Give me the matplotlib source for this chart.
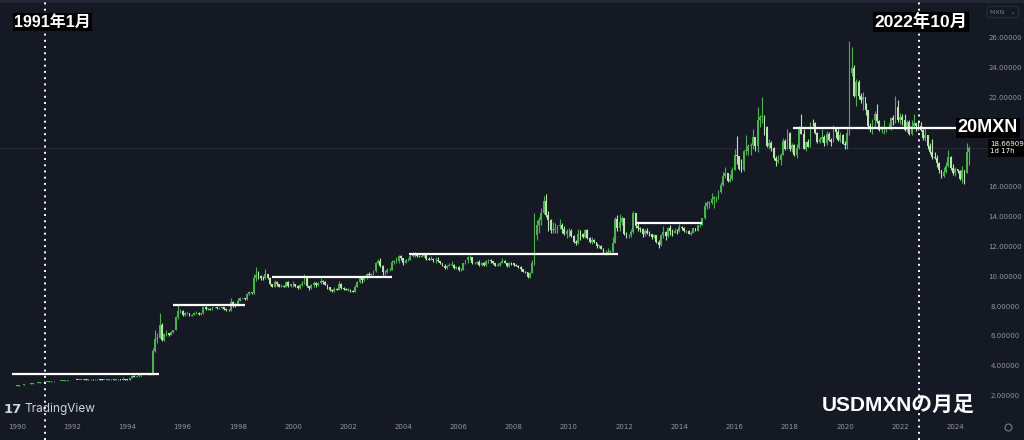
import matplotlib
matplotlib.use('Agg')
import matplotlib.pyplot as plt
import matplotlib.transforms as mtransforms

plt.rcParams['font.family'] = ['Noto Sans CJK JP', 'DejaVu Sans']
label_fonts = ['Liberation Sans', 'Noto Sans CJK JP']

# USDMXN monthly candles, Jan 1990 .. Jul 2024
first_open = 2.68
close = [
    2.70, 2.73, 2.75, 2.78, 2.80, 2.82, 2.84, 2.86, 2.88, 2.90, 2.92, 2.94,  # 1990
    2.95, 2.96, 2.97, 2.98, 2.99, 3.00, 3.01, 3.02, 3.03, 3.04, 3.06, 3.07,  # 1991
    3.07, 3.09, 3.08, 3.08, 3.10, 3.12, 3.11, 3.12, 3.13, 3.12, 3.12, 3.12,  # 1992
    3.11, 3.09, 3.10, 3.11, 3.12, 3.13, 3.11, 3.12, 3.12, 3.11, 3.15, 3.11,  # 1993
    3.10, 3.18, 3.35, 3.30, 3.32, 3.40, 3.39, 3.40, 3.41, 3.44, 3.45, 5.00,  # 1994
    5.80, 5.90, 6.80, 5.75, 6.15, 6.25, 6.12, 6.30, 6.45, 7.30, 7.70, 7.70,  # 1995
    7.45, 7.55, 7.55, 7.40, 7.45, 7.55, 7.60, 7.50, 7.55, 7.95, 7.85, 7.85,  # 1996
    7.80, 7.95, 7.95, 7.90, 7.90, 7.95, 7.85, 7.78, 7.75, 8.30, 8.20, 8.10,  # 1997
    8.40, 8.55, 8.55, 8.50, 8.85, 8.95, 8.90, 9.95, 10.15, 10.05, 9.95, 9.90,  # 1998
    10.20, 9.95, 9.50, 9.35, 9.65, 9.50, 9.35, 9.40, 9.35, 9.65, 9.40, 9.50,  # 1999
    9.50, 9.40, 9.25, 9.45, 9.55, 9.95, 9.40, 9.25, 9.45, 9.60, 9.45, 9.60,  # 2000
    9.70, 9.65, 9.45, 9.30, 9.10, 9.05, 9.20, 9.15, 9.55, 9.25, 9.20, 9.15,  # 2001
    9.15, 9.05, 9.00, 9.35, 9.65, 9.95, 9.80, 9.90, 10.20, 10.15, 10.15, 10.40,  # 2002
    10.95, 11.05, 10.75, 10.30, 10.35, 10.45, 10.45, 11.00, 11.00, 11.05, 11.40, 11.25,  # 2003
    10.95, 11.10, 11.15, 11.40, 11.40, 11.50, 11.40, 11.35, 11.40, 11.45, 11.20, 11.15,  # 2004
    11.20, 11.10, 11.15, 11.05, 10.90, 10.75, 10.60, 10.70, 10.80, 10.80, 10.60, 10.65,  # 2005
    10.45, 10.45, 10.90, 11.10, 11.30, 11.30, 10.90, 10.90, 11.00, 10.80, 10.95, 10.80,  # 2006
    11.05, 11.15, 11.05, 10.90, 10.75, 10.80, 10.95, 11.05, 10.95, 10.70, 10.95, 10.90,  # 2007
    10.80, 10.75, 10.65, 10.50, 10.35, 10.30, 10.00, 10.25, 10.90, 12.80, 13.45, 13.80,  # 2008
    14.30, 15.10, 14.15, 13.80, 13.15, 13.15, 13.20, 13.40, 13.50, 13.20, 12.90, 13.05,  # 2009
    13.05, 12.75, 12.35, 12.30, 12.90, 12.85, 12.65, 13.15, 12.60, 12.35, 12.50, 12.35,  # 2010
    12.10, 12.10, 11.90, 11.50, 11.60, 11.70, 11.70, 12.30, 13.85, 13.30, 13.65, 13.95,  # 2011
    12.90, 12.80, 12.80, 13.00, 14.30, 13.40, 13.30, 13.20, 12.85, 13.10, 12.95, 12.85,  # 2012
    12.70, 12.80, 12.35, 12.15, 12.80, 13.00, 12.75, 13.30, 13.10, 12.95, 13.10, 13.05,  # 2013
    13.35, 13.25, 13.05, 13.10, 12.85, 12.95, 13.25, 13.10, 13.45, 13.50, 13.95, 14.75,  # 2014
    14.95, 14.95, 15.25, 15.35, 15.35, 15.70, 16.15, 16.75, 16.95, 16.45, 16.60, 17.20,  # 2015
    18.15, 18.10, 17.25, 17.15, 18.45, 18.45, 18.80, 18.85, 19.40, 18.80, 20.55, 20.70,  # 2016
    20.80, 20.05, 18.75, 19.00, 18.65, 18.00, 17.80, 17.85, 18.20, 19.15, 18.60, 19.65,  # 2017
    18.60, 18.85, 18.15, 18.65, 19.90, 19.60, 18.60, 19.05, 18.70, 20.35, 20.30, 19.65,  # 2018
    19.05, 19.25, 19.40, 19.00, 19.60, 19.20, 19.05, 20.05, 19.75, 19.20, 19.55, 18.90,  # 2019
    18.85, 19.65, 23.70, 24.00, 22.15, 23.05, 22.15, 21.85, 22.10, 21.20, 20.10, 19.90,  # 2020
    20.55, 20.90, 20.45, 19.85, 19.90, 19.90, 19.90, 20.05, 20.65, 20.55, 21.40, 20.50,  # 2021
    20.75, 20.55, 19.85, 20.40, 19.60, 20.15, 20.35, 20.15, 20.10, 19.85, 19.30, 19.50,  # 2022
    18.80, 18.35, 18.05, 18.00, 17.65, 17.15, 16.75, 17.05, 17.45, 18.05, 17.30, 16.95,  # 2023
    17.25, 17.10, 16.55, 17.15, 17.00, 18.35, 18.67,  # 2024
]
high = [
    2.71, 2.74, 2.76, 2.79, 2.81, 2.83, 2.85, 2.87, 2.89, 2.91, 2.93, 2.95,
    2.96, 2.97, 2.98, 2.99, 3.00, 3.01, 3.02, 3.03, 3.04, 3.05, 3.07, 3.08,
    3.09, 3.10, 3.10, 3.10, 3.11, 3.13, 3.13, 3.13, 3.15, 3.14, 3.14, 3.13,
    3.13, 3.12, 3.11, 3.12, 3.14, 3.15, 3.14, 3.13, 3.13, 3.13, 3.30, 3.16,
    3.12, 3.20, 3.40, 3.40, 3.36, 3.43, 3.41, 3.42, 3.42, 3.45, 3.46, 5.20,
    6.40, 6.25, 7.55, 6.90, 6.20, 6.40, 6.20, 6.35, 6.45, 7.40, 8.10, 7.85,
    7.75, 7.62, 7.65, 7.60, 7.52, 7.65, 7.68, 7.62, 7.60, 8.05, 8.05, 7.92,
    7.92, 7.98, 8.00, 7.98, 7.95, 7.98, 7.96, 7.88, 7.82, 8.60, 8.35, 8.25,
    8.60, 8.65, 8.60, 8.58, 8.90, 9.05, 9.00, 10.20, 10.65, 10.40, 10.10, 10.05,
    10.50, 10.20, 10.00, 9.55, 9.80, 9.70, 9.55, 9.50, 9.45, 9.75, 9.70, 9.55,
    9.70, 9.55, 9.45, 9.50, 9.70, 10.20, 9.95, 9.40, 9.55, 9.70, 9.65, 9.65,
    9.90, 9.80, 9.70, 9.50, 9.35, 9.20, 9.30, 9.25, 9.70, 9.60, 9.35, 9.25,
    9.25, 9.20, 9.10, 9.45, 9.75, 10.05, 10.00, 10.00, 10.25, 10.30, 10.25, 10.45,
    11.00, 11.20, 11.25, 10.80, 10.45, 10.60, 10.60, 11.10, 11.15, 11.30, 11.45, 11.45,
    11.25, 11.20, 11.25, 11.50, 11.65, 11.65, 11.55, 11.45, 11.50, 11.55, 11.45, 11.35,
    11.40, 11.25, 11.35, 11.30, 11.05, 10.95, 10.85, 10.80, 10.90, 11.05, 10.85, 10.75,
    10.70, 10.60, 10.95, 11.15, 11.40, 11.45, 11.35, 11.00, 11.05, 11.15, 11.00, 11.00,
    11.10, 11.20, 11.20, 11.05, 10.95, 10.90, 11.00, 11.25, 11.15, 10.95, 11.00, 11.00,
    10.95, 10.85, 10.80, 10.70, 10.55, 10.40, 10.35, 10.35, 11.10, 14.30, 13.80, 14.00,
    14.60, 15.40, 15.55, 14.40, 13.90, 13.70, 13.60, 13.45, 13.85, 13.60, 13.40, 13.20,
    13.25, 13.20, 12.80, 12.50, 13.20, 13.15, 12.95, 13.20, 13.20, 12.70, 12.65, 12.55,
    12.30, 12.15, 12.15, 11.95, 11.80, 11.95, 11.80, 12.65, 14.00, 14.15, 14.25, 14.05,
    13.95, 13.00, 12.90, 13.20, 14.40, 14.30, 13.70, 13.35, 13.30, 13.20, 13.25, 13.10,
    12.90, 12.85, 12.80, 12.50, 12.85, 13.40, 13.10, 13.35, 13.45, 13.20, 13.30, 13.20,
    13.55, 13.40, 13.35, 13.15, 13.15, 13.10, 13.30, 13.30, 13.50, 13.65, 13.95, 15.00,
    15.10, 15.10, 15.60, 15.40, 15.40, 15.80, 16.35, 17.05, 17.35, 16.95, 16.90, 17.40,
    18.60, 19.45, 18.10, 17.90, 18.50, 19.50, 18.90, 18.95, 19.95, 19.10, 21.40, 20.85,
    22.05, 20.85, 20.15, 19.25, 19.10, 18.70, 18.10, 18.15, 18.30, 19.35, 19.25, 19.90,
    19.75, 18.95, 18.90, 18.90, 20.15, 20.95, 19.95, 19.15, 19.25, 20.40, 20.60, 20.40,
    19.70, 19.40, 19.90, 19.55, 19.80, 19.70, 19.35, 20.20, 20.05, 19.95, 19.75, 19.60,
    19.15, 20.00, 25.80, 25.45, 24.25, 23.25, 23.20, 22.35, 22.40, 21.65, 21.15, 20.35,
    20.60, 21.10, 21.60, 20.55, 20.15, 20.50, 20.05, 20.30, 20.70, 20.85, 22.15, 21.85,
    21.00, 20.90, 20.90, 20.50, 20.50, 20.50, 20.95, 20.35, 20.45, 20.40, 19.90, 20.00,
    19.50, 19.00, 19.25, 18.40, 18.15, 17.70, 17.20, 17.35, 17.70, 18.50, 18.10, 17.55,
    17.40, 17.25, 17.15, 17.45, 17.10, 18.99, 18.80,
]
low = [
    2.67, 2.70, 2.73, 2.75, 2.78, 2.80, 2.82, 2.84, 2.86, 2.88, 2.90, 2.92,
    2.93, 2.94, 2.95, 2.96, 2.97, 2.98, 2.99, 3.00, 3.01, 3.02, 3.03, 3.05,
    3.05, 3.06, 3.06, 3.06, 3.07, 3.09, 3.10, 3.10, 3.11, 3.10, 3.10, 3.10,
    3.09, 3.08, 3.08, 3.09, 3.10, 3.11, 3.10, 3.10, 3.10, 3.09, 3.10, 3.10,
    3.09, 3.09, 3.18, 3.28, 3.28, 3.31, 3.37, 3.38, 3.39, 3.40, 3.43, 3.44,
    4.95, 5.55, 5.90, 5.70, 5.70, 6.05, 6.05, 6.10, 6.25, 6.40, 7.20, 7.55,
    7.35, 7.40, 7.48, 7.35, 7.35, 7.42, 7.50, 7.45, 7.46, 7.52, 7.75, 7.78,
    7.75, 7.75, 7.88, 7.85, 7.82, 7.85, 7.80, 7.70, 7.70, 7.72, 8.00, 8.00,
    8.05, 8.35, 8.48, 8.45, 8.45, 8.80, 8.85, 8.85, 9.70, 9.85, 9.80, 9.80,
    9.85, 9.85, 9.45, 9.30, 9.30, 9.40, 9.30, 9.30, 9.30, 9.30, 9.35, 9.35,
    9.35, 9.35, 9.20, 9.20, 9.40, 9.50, 9.35, 9.15, 9.20, 9.35, 9.35, 9.40,
    9.50, 9.55, 9.45, 9.20, 9.05, 8.95, 9.00, 9.10, 9.10, 9.20, 9.10, 9.10,
    9.05, 9.00, 9.00, 9.00, 9.30, 9.60, 9.60, 9.75, 9.85, 10.00, 10.05, 10.10,
    10.35, 10.85, 10.65, 10.15, 10.10, 10.25, 10.40, 10.45, 10.85, 10.95, 10.95, 11.15,
    10.80, 10.90, 11.05, 11.10, 11.30, 11.30, 11.35, 11.30, 11.30, 11.35, 11.15, 11.10,
    11.10, 11.00, 10.95, 11.00, 10.85, 10.70, 10.55, 10.55, 10.70, 10.70, 10.55, 10.55,
    10.40, 10.40, 10.45, 10.85, 10.90, 11.15, 10.85, 10.85, 10.85, 10.75, 10.75, 10.75,
    10.75, 10.95, 10.95, 10.85, 10.70, 10.70, 10.75, 10.90, 10.90, 10.65, 10.65, 10.80,
    10.75, 10.70, 10.60, 10.40, 10.30, 10.25, 9.95, 9.95, 10.25, 10.80, 12.50, 12.95,
    13.50, 14.20, 14.00, 13.10, 12.95, 12.95, 12.95, 12.95, 13.20, 12.95, 12.80, 12.60,
    12.70, 12.70, 12.30, 12.15, 12.20, 12.50, 12.60, 12.60, 12.55, 12.30, 12.20, 12.30,
    11.95, 11.95, 11.90, 11.50, 11.45, 11.55, 11.50, 11.65, 12.30, 13.05, 13.05, 13.45,
    12.80, 12.60, 12.60, 12.70, 12.95, 13.30, 13.10, 13.00, 12.70, 12.75, 12.90, 12.75,
    12.55, 12.60, 12.30, 11.95, 12.05, 12.60, 12.45, 12.70, 12.80, 12.75, 12.95, 12.90,
    13.00, 13.15, 13.00, 12.95, 12.85, 12.80, 12.95, 13.05, 13.10, 13.35, 13.45, 13.85,
    14.55, 14.60, 14.90, 14.60, 15.05, 15.20, 15.65, 16.10, 16.65, 16.35, 16.35, 16.50,
    17.15, 17.60, 17.15, 17.05, 17.10, 18.15, 18.15, 18.20, 18.60, 18.45, 18.35, 20.05,
    20.35, 19.50, 18.70, 18.55, 18.45, 17.85, 17.45, 17.65, 17.50, 18.15, 18.50, 18.60,
    18.45, 18.40, 18.10, 17.95, 18.55, 19.60, 18.60, 18.45, 18.70, 18.70, 20.10, 19.60,
    18.95, 19.00, 19.05, 18.75, 18.85, 19.10, 18.75, 19.05, 19.30, 19.10, 19.05, 18.90,
    18.55, 18.55, 19.50, 23.45, 22.10, 21.45, 21.95, 21.70, 21.20, 20.85, 19.95, 19.70,
    19.60, 20.00, 20.30, 19.80, 19.65, 19.60, 19.70, 19.90, 19.85, 20.20, 20.30, 20.40,
    20.25, 20.20, 19.80, 19.75, 19.50, 19.50, 20.05, 19.80, 19.85, 19.80, 19.20, 19.10,
    18.55, 18.25, 17.90, 17.90, 17.40, 17.00, 16.65, 16.70, 17.00, 17.35, 17.15, 16.85,
    16.75, 16.95, 16.50, 16.30, 16.25, 16.95, 17.50,
]
start_year = 1990
last_price = 18.66909

# white support/resistance levels drawn on the chart
level_value = [3.5, 8.1, 10.0, 11.5, 13.6, 20.0]
level_from = [1989.82, 1995.65, 1999.24, 2004.2, 2012.43, 2018.12]
level_to = [1995.14, 1998.26, 2003.59, 2011.78, 2014.82, 2024.09]

# dotted event lines
event_dates = [1991.0, 2022.7]
event_labels = ['1991年1月', '2022年10月']

x_ticks = list(range(1990, 2025, 2))
y_ticks = [2, 4, 6, 8, 10, 12, 14, 16, 22, 24, 26]

bg = '#151924'
up_col = '#4caf50'
down_col = '#b9e4b0'

fig = plt.figure(figsize=(10.24, 4.4), dpi=100, facecolor=bg)
ax = fig.add_axes([0, 0, 1, 1])
ax.set_facecolor(bg)
ax.set_xlim(1989.384, 2026.49)
ax.set_ylim(-0.95, 28.58)
ax.axis('off')

# candles
opens = [first_open] + close[:-1]
dates = [start_year + i / 12 for i in range(len(close))]
ups = [c >= o for o, c in zip(opens, close)]
cols = [up_col if u else down_col for u in ups]
ax.vlines(dates, low, high, colors=cols, linewidth=0.8, zorder=2)
bottoms = [min(o, c) for o, c in zip(opens, close)]
heights = [max(abs(c - o), 0.04) for o, c in zip(opens, close)]
ax.bar(dates, heights, bottom=bottoms, width=0.065, color=cols, linewidth=0, zorder=3)

# last price line
ax.axhline(last_price, color='#262a35', lw=0.7, zorder=1)

# levels
for v, a, b in zip(level_value, level_from, level_to):
    ax.plot([a, b], [v, v], color='white', lw=1.6, solid_capstyle='butt', zorder=4)
ax.text(level_to[-1], level_value[-1], '20MXN', color='white', fontsize=13,
        fontweight='bold', va='center', ha='left', zorder=6, family=label_fonts,
        bbox=dict(facecolor='black', edgecolor='none', pad=1.2))

# event lines + labels
for d in event_dates:
    ax.axvline(d, color='white', lw=1.4, ls=(0, (1, 2.2)), zorder=4)
tr_top = mtransforms.blended_transform_factory(ax.transData, ax.transAxes)
ax.text(event_dates[0] - 1.1, 0.95, event_labels[0], transform=tr_top, color='white',
        fontsize=11.5, fontweight='bold', va='center', ha='left', zorder=6,
        family=label_fonts, bbox=dict(facecolor='black', edgecolor='none', pad=1.0))
ax.text(event_dates[1] + 0.05, 0.95, event_labels[1], transform=tr_top, color='white',
        fontsize=12.5, fontweight='bold', va='center', ha='center', zorder=6,
        family=label_fonts, bbox=dict(facecolor='black', edgecolor='none', pad=1.0))

# axis labels
for yr in x_ticks:
    ax.text(yr, 1 - 427 / 440, str(yr), transform=tr_top, color='#9598a1',
            fontsize=5, ha='center', va='center', family='DejaVu Sans')
tr_right = mtransforms.blended_transform_factory(ax.transAxes, ax.transData)
for v in y_ticks:
    ax.text(1005 / 1024, v, '%.5f' % v, transform=tr_right, color='#9598a1',
            fontsize=5, ha='center', va='center', family='DejaVu Sans')
ax.text(990 / 1024, last_price, '%.5f\n1d 17h' % last_price, transform=tr_right,
        color='white', fontsize=5, ha='left', va='center', family='DejaVu Sans',
        linespacing=1.3, bbox=dict(facecolor='black', edgecolor='none', pad=1.5), zorder=6)

# currency selector + gear
ax.text(990 / 1024, 1 - 12 / 440, 'MXN   \u2304', transform=ax.transAxes, color='#787b86',
        fontsize=4.5, ha='left', va='center', family='DejaVu Sans',
        bbox=dict(facecolor=bg, edgecolor='#2a2e39', boxstyle='round,pad=0.5', lw=0.8))
ax.plot([1008 / 1024], [1 - 427 / 440], 'o', transform=ax.transAxes, ms=5,
        mfc='none', mec='#787b86', mew=0.8)
ax.plot([0, 1], [0.997, 0.997], transform=ax.transAxes, color='#242834', lw=2)

# watermark
ax.text(4 / 1024, 1 - 409 / 440, '17', transform=ax.transAxes, color='#d1d4dc',
        fontsize=9.5, fontweight='heavy', ha='left', va='center', family='DejaVu Sans')
ax.text(24 / 1024, 1 - 409 / 440, 'TradingView', transform=ax.transAxes, color='#d1d4dc',
        fontsize=8.5, ha='left', va='center', family='Inter')

# title
ax.text(898 / 1024, 1 - 405 / 440, 'USDMXNの月足', transform=ax.transAxes, color='white',
        fontsize=15, fontweight='bold', ha='center', va='center', zorder=6,
        family=label_fonts)

fig.savefig('out.png', dpi=100, facecolor=bg)
